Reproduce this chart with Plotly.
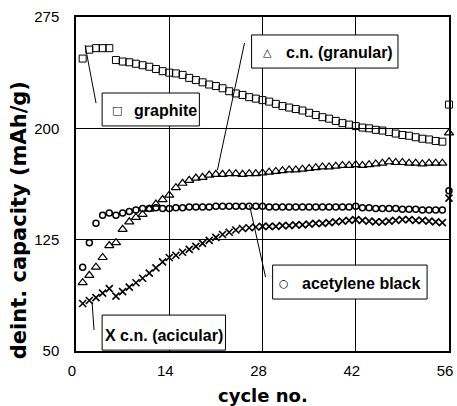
import plotly.graph_objects as go

cycles = list(range(1, 57))

graphite = [247, 253, 254, 254, 254, 246, 245, 244.5, 243.5, 242.5,
            241.5, 240, 238.5, 237.5, 237, 236, 234, 232.5, 231, 229.5,
            228.5, 227, 225, 223.5, 222.5, 221, 220, 219, 218, 216.5,
            215, 214, 213, 212, 210.5, 209, 207.5, 206.5, 205, 203.5,
            202.5, 201.5, 200.5, 200, 199, 198.5, 197.5, 196.5, 195.5, 195,
            194, 193, 192.5, 191.5, 191, 216]

cn_granular = [96, 101, 106.5, 113, 121, 123, 132, 137, 140, 142,
               145.5, 149, 152, 155, 160, 163, 165, 166.5, 167, 168.5,
               169, 169, 169.5, 169.5, 169, 169.5, 169.5, 170, 170.5, 171,
               171.5, 172, 172, 172.5, 173, 173.5, 174, 174, 174.5, 175,
               175, 175.5, 175, 175.5, 176, 176.5, 177.5, 177, 177, 176.5,
               176.5, 176, 176.5, 176.5, 176.5, 197]

acetylene = [106.5, 123, 136, 141.5, 143, 141.5, 143, 144, 145, 146,
             146, 146.5, 146, 146, 146.5, 146.5, 147, 147, 147, 147,
             147.5, 147.5, 147.5, 147.5, 147.5, 147.5, 147.5, 147.5, 147, 147,
             147, 147, 147, 147, 147, 147, 147, 147, 147, 147,
             147, 147.5, 146.5, 146.5, 146, 146, 146, 146, 145.5, 145.5,
             145.5, 145, 145, 145, 145, 158]

cn_acicular = [82, 84, 86, 89, 92, 87, 90, 93, 96, 99,
               102.5, 106, 110, 113, 114.5, 116.5, 118.5, 120.5, 122.5, 124.5,
               126.5, 128.5, 130, 131.5, 132.5, 133, 133.5, 134, 134, 134,
               134.5, 134.5, 135, 135, 135.5, 136, 136, 136.5, 137, 137.5,
               138, 138.5, 138, 137.5, 137, 137, 137.5, 138, 138.5, 138.5,
               138, 138, 137.5, 137, 136.5, 153]

x_ticks = [0, 14, 28, 42, 56]
y_ticks = [50, 125, 200, 275]

fig = go.Figure()
fig.add_trace(go.Scatter(x=cycles, y=graphite, mode="markers", name="graphite",
                         marker=dict(symbol="square-open", size=7, color="black",
                                     line=dict(width=1, color="black")),
                         cliponaxis=False))
fig.add_trace(go.Scatter(x=cycles, y=cn_granular, mode="markers", name="c.n. (granular)",
                         marker=dict(symbol="triangle-up-open", size=8, color="black",
                                     line=dict(width=1.2, color="black")),
                         cliponaxis=False))
fig.add_trace(go.Scatter(x=cycles, y=acetylene, mode="markers", name="acetylene black",
                         marker=dict(symbol="circle-open", size=6, color="black",
                                     line=dict(width=1.5, color="black")),
                         cliponaxis=False))
fig.add_trace(go.Scatter(x=cycles, y=cn_acicular, mode="markers", name="c.n. (acicular)",
                         marker=dict(symbol="x-thin-open", size=7, color="black",
                                     line=dict(width=1.6, color="black")),
                         cliponaxis=False))

# label boxes
boxes = [
    (3.92, 201.6, 18.52, 223.8),
    (26.36, 240.6, 48.34, 262.9),
    (29.52, 85.0, 52.71, 107.9),
    (3.92, 50.6, 22.44, 74.2),
]
for x0, y0, x1, y1 in boxes:
    fig.add_shape(type="rect", x0=x0, y0=y0, x1=x1, y1=y1, xref="x", yref="y",
                  line=dict(color="black", width=1), fillcolor="white", layer="above")

leaders = [
    (1.36, 256.1, 3.01, 217.0),
    (25.3, 257.5, 21.23, 171.9),
    (26.05, 148.3, 28.46, 99.8),
    (2.41, 83.0, 2.71, 64.1),
]
for x0, y0, x1, y1 in leaders:
    fig.add_shape(type="line", x0=x0, y0=y0, x1=x1, y1=y1, xref="x", yref="y",
                  line=dict(color="black", width=1), layer="above")

sym_font = dict(family="DejaVu Sans", size=11, color="black")
txt_font = dict(family="Liberation Sans, Arial", size=16, color="black")

labels = [
    (6.17, 212.3, "□", sym_font, "center"),
    (8.43, 212.3, "<b>graphite</b>", txt_font, "left"),
    (28.77, 251.4, "△", sym_font, "center"),
    (31.17, 251.4, "<b>c.n. (granular)</b>", txt_font, "left"),
    (31.17, 95.8, "○", sym_font, "center"),
    (33.58, 95.8, "<b>acetylene black</b>", txt_font, "left"),
    (4.07, 60.7, "<b>X c.n. (acicular)</b>", txt_font, "left"),
]
for x, y, t, f, xa in labels:
    fig.add_annotation(x=x, y=y, xref="x", yref="y", text=t, showarrow=False,
                       font=f, xanchor=xa, yanchor="middle")

# axis titles placed like the original
fig.add_annotation(x=-0.154, y=0.39, xref="paper", yref="paper",
                   text="<b>deint. capacity (mAh/g)</b>", textangle=-90,
                   showarrow=False, xanchor="center", yanchor="middle",
                   font=dict(family="DejaVu Sans", size=21, color="black"))
fig.add_annotation(x=0.5, y=-0.134, xref="paper", yref="paper",
                   text="<b>cycle no.</b>",
                   showarrow=False, xanchor="center", yanchor="middle",
                   font=dict(family="DejaVu Sans", size=18, color="black"))

axis_common = dict(showline=True, mirror=True, linecolor="black", linewidth=1.5,
                   showgrid=True, gridcolor="black", gridwidth=1, zeroline=False,
                   automargin=False, ticklabeloverflow="allow",
                   ticks="", tickfont=dict(family="Liberation Sans, Arial", size=15, color="black"))

fig.update_layout(
    width=457, height=406,
    margin=dict(l=76, r=8, t=17, b=55),
    paper_bgcolor="white", plot_bgcolor="white",
    showlegend=False,
    xaxis=dict(range=[0, 56], tickvals=x_ticks, ticktext=[str(v) for v in x_ticks],
               ticklabelstandoff=5, ticklabelshift=-4, **axis_common),
    yaxis=dict(range=[50, 275], tickvals=y_ticks, ticktext=[str(v) for v in y_ticks],
               ticklabelstandoff=12, **axis_common),
)

fig.write_html("out.html")
